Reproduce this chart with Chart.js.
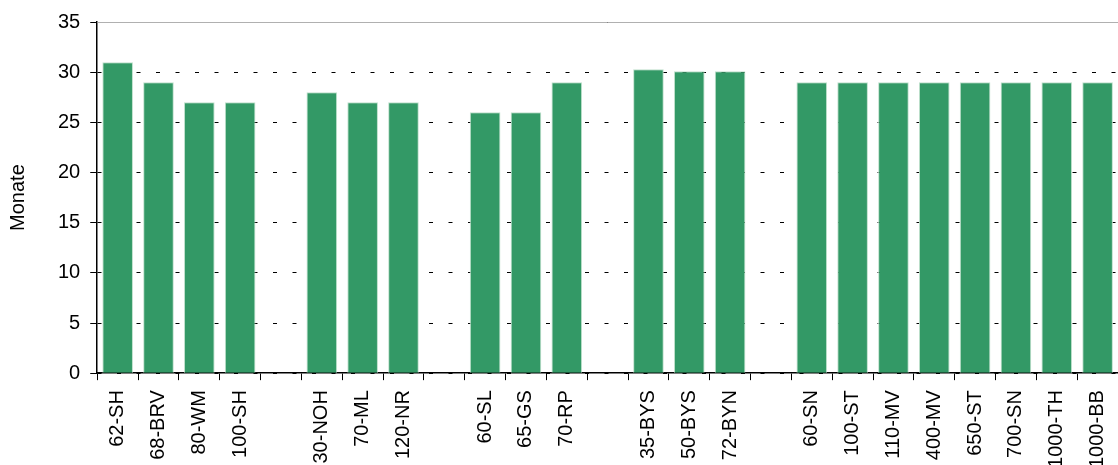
<!DOCTYPE html>
<html>
<head>
<meta charset="utf-8">
<script src="https://cdn.jsdelivr.net/npm/chart.js@4/dist/chart.umd.min.js"></script>
<style>
  html, body { margin: 0; padding: 0; background: #fff; overflow: hidden; }
  #wrap { width: 1118px; height: 478px; }
</style>
</head>
<body>
<div id="wrap"><canvas id="myChart"></canvas></div>
<script>
// empty strings are the gaps between the groups
const categories = [
  "62-SH", "68-BRV", "80-WM", "100-SH", "",
  "30-NOH", "70-ML", "120-NR", "",
  "60-SL", "65-GS", "70-RP", "",
  "35-BYS", "50-BYS", "72-BYN", "",
  "60-SN", "100-ST", "110-MV", "400-MV", "650-ST", "700-SN", "1000-TH", "1000-BB"
];
const months = [
  31, 29, 27, 27, null,
  28, 27, 27, null,
  26, 26, 29, null,
  30.3, 30.1, 30.1, null,
  29, 29, 29, 29, 29, 29, 29, 29
];
const yTicks = [0, 5, 10, 15, 20, 25, 30, 35];

const FONT = "'Liberation Sans', Arial, sans-serif";

// solid grey line along the top of the plot, like the original
const topLine = {
  id: "topLine",
  afterDraw(chart) {
    const ctx = chart.ctx;
    const y = chart.scales.y.getPixelForValue(35);
    ctx.save();
    ctx.strokeStyle = "#b0b0b0";
    ctx.lineWidth = 1;
    ctx.beginPath();
    ctx.moveTo(chart.chartArea.left, y + 0.5);
    ctx.lineTo(chart.chartArea.right, y + 0.5);
    ctx.stroke();
    ctx.restore();
  }
};

const data = {
  labels: categories,
  datasets: [{
    data: months,
    backgroundColor: "#339966",
    borderColor: "#bfe0cc",
    borderWidth: 1,
    barPercentage: 0.75,
    categoryPercentage: 1.0
  }]
};

const config = {
  type: "bar",
  data: data,
  options: {
    responsive: true,
    maintainAspectRatio: false,
    animation: false,
    layout: { padding: { top: 10, right: 0, left: 4, bottom: 0 } },
    plugins: {
      legend: { display: false },
      tooltip: { enabled: false }
    },
    scales: {
      x: {
        afterFit: (scale) => {
          scale.paddingRight = 0;
          scale.paddingLeft = 0;
        },
        grid: {
          display: true,
          drawOnChartArea: false,
          drawTicks: true,
          tickLength: 7,
          color: "#000",
          offset: true
        },
        border: { color: "#000", width: 1.5 },
        ticks: {
          autoSkip: false,
          minRotation: 90,
          maxRotation: 90,
          padding: 10,
          color: "#000",
          font: { family: FONT, size: 20 }
        }
      },
      y: {
        min: 0,
        max: 35,
        afterBuildTicks: (scale) => {
          scale.ticks = yTicks.map(v => ({ value: v }));
        },
        grid: {
          color: "#000",
          tickColor: "#000",
          tickLength: 7,
          lineWidth: 1
        },
        border: { color: "#000", width: 1.5, dash: [4, 15.5] },
        ticks: {
          padding: 10,
          color: "#000",
          font: { family: FONT, size: 20 }
        },
        title: {
          display: true,
          text: "Monate",
          color: "#000",
          padding: { top: 2, bottom: 18 },
          font: { family: FONT, size: 20 }
        }
      }
    }
  },
  plugins: [topLine]
};

const myChart = new Chart(document.getElementById("myChart"), config);
</script>
</body>
</html>
